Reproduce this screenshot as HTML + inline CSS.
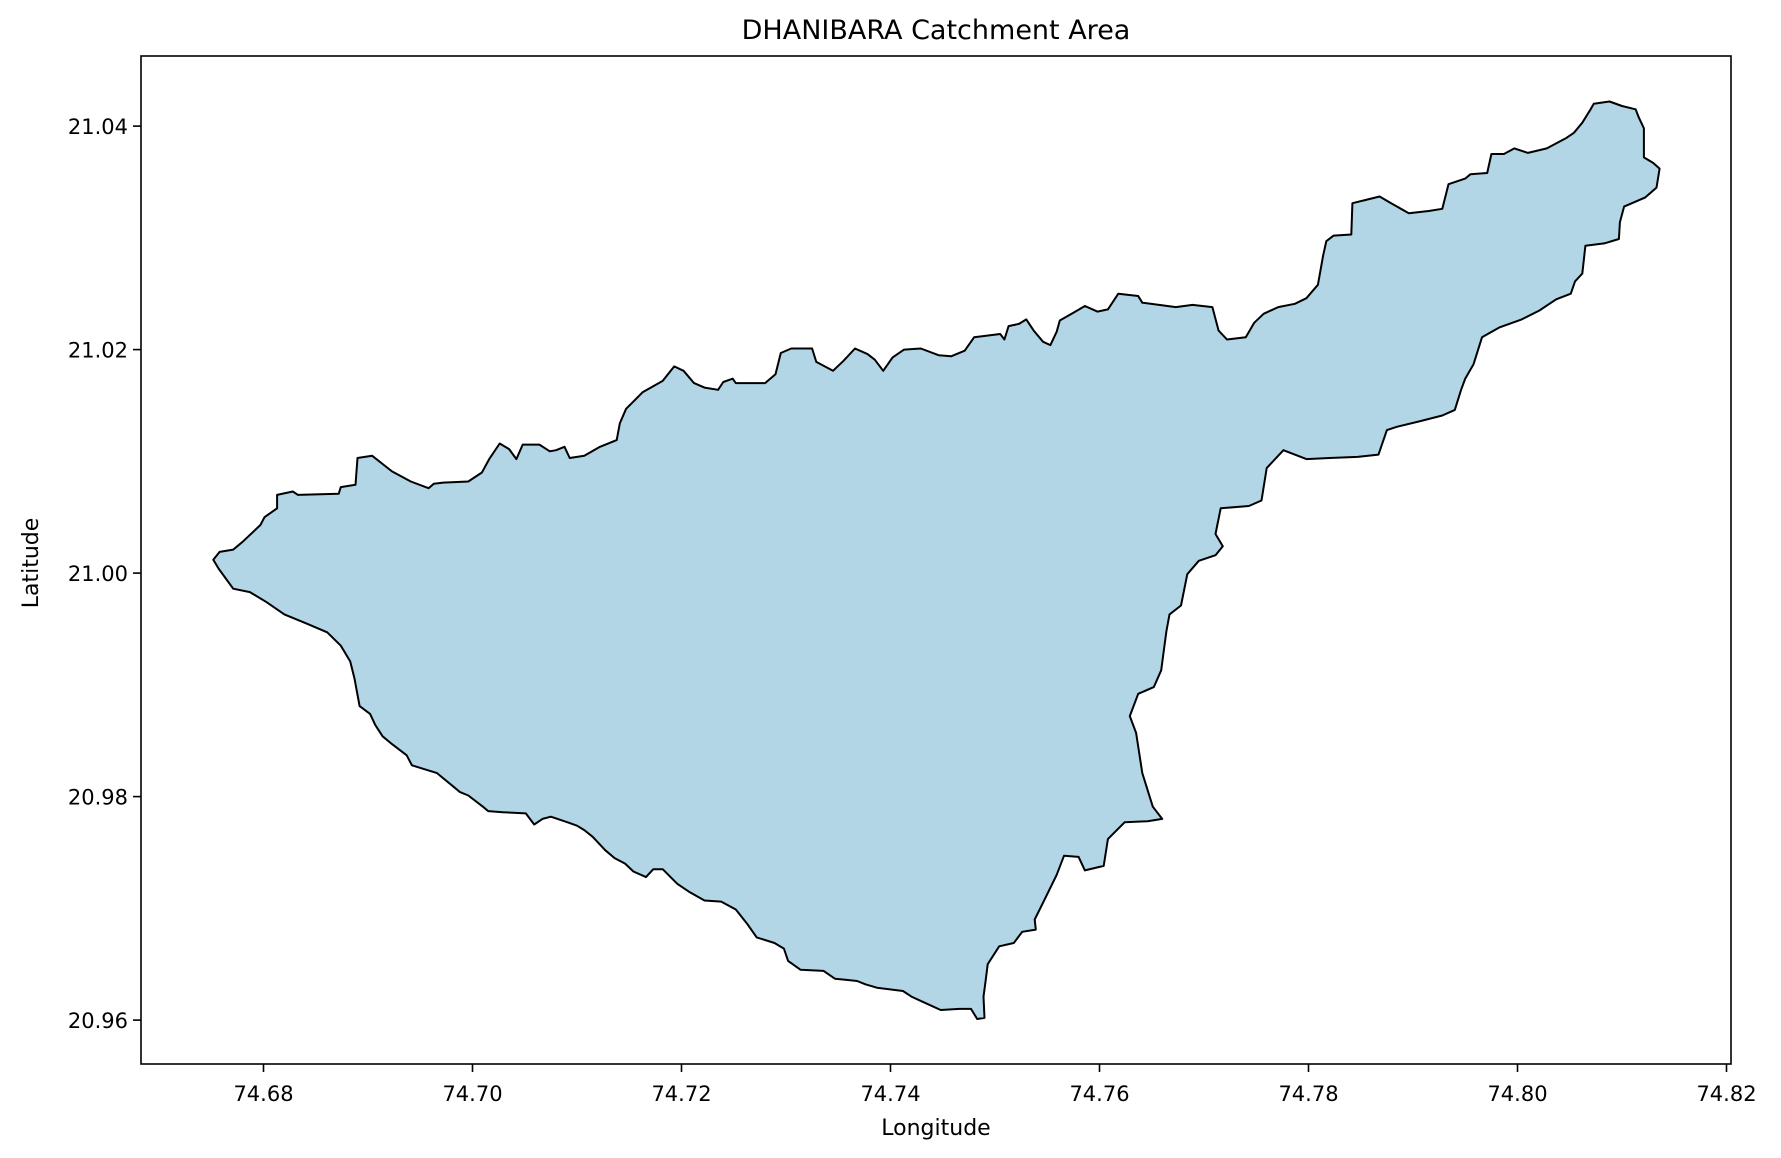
<!DOCTYPE html>
<html><head><meta charset="utf-8"><style>
html,body{margin:0;padding:0;background:#fff;}
svg{display:block;font-family:"DejaVu Sans","Liberation Sans",sans-serif;}
</style></head><body>
<svg id="chart" width="1781" height="1158" viewBox="0 0 1781 1158">
<text x="936" y="39" text-anchor="middle" font-size="27" fill="#000">DHANIBARA Catchment Area</text>
<g id="plot"></g>
<text x="936" y="1135" text-anchor="middle" font-size="22">Longitude</text>
<text transform="translate(38,563) rotate(-90)" text-anchor="middle" font-size="22">Latitude</text>
</svg>
<script>
const xTicks=[74.68,74.70,74.72,74.74,74.76,74.78,74.80,74.82];
const yTicks=[20.96,20.98,21.00,21.02,21.04];
const lons=[74.6752,74.6758,74.6771,74.6780,74.6797,74.6801,74.6813,74.6813,74.6828,74.6833,74.6872,74.6874,74.6888,74.6890,74.6904,74.6923,74.6941,74.6958,74.6963,74.6972,74.6996,74.7009,74.7016,74.7026,74.7035,74.7042,74.7048,74.7064,74.7074,74.7080,74.7088,74.7093,74.7107,74.7122,74.7138,74.7141,74.7147,74.7163,74.7182,74.7193,74.7202,74.7212,74.7222,74.7235,74.7240,74.7249,74.7252,74.7280,74.7290,74.7295,74.7305,74.7325,74.7329,74.7345,74.7355,74.7366,74.7378,74.7385,74.7393,74.7402,74.7413,74.7429,74.7446,74.7458,74.7471,74.7480,74.7505,74.7509,74.7513,74.7523,74.7530,74.7537,74.7546,74.7553,74.7559,74.7562,74.7575,74.7586,74.7598,74.7608,74.7618,74.7637,74.7641,74.7657,74.7673,74.7689,74.7708,74.7714,74.7722,74.7740,74.7748,74.7757,74.7771,74.7787,74.7798,74.7809,74.7814,74.7817,74.7824,74.7841,74.7842,74.7855,74.7868,74.7879,74.7896,74.7915,74.7928,74.7934,74.7950,74.7955,74.7971,74.7975,74.7987,74.7997,74.8010,74.8028,74.8046,74.8054,74.8062,74.8070,74.8073,74.8088,74.8100,74.8113,74.8116,74.8121,74.8121,74.8130,74.8136,74.8133,74.8122,74.8102,74.8098,74.8097,74.8083,74.8065,74.8062,74.8055,74.8051,74.8037,74.8021,74.8004,74.7983,74.7966,74.7958,74.7950,74.7946,74.7940,74.7928,74.7907,74.7885,74.7875,74.7867,74.7847,74.7820,74.7798,74.7776,74.7760,74.7755,74.7743,74.7716,74.7711,74.7718,74.7711,74.7695,74.7684,74.7678,74.7667,74.7664,74.7659,74.7652,74.7637,74.7629,74.7635,74.7641,74.7651,74.7660,74.7646,74.7624,74.7608,74.7604,74.7586,74.7580,74.7566,74.7559,74.7548,74.7538,74.7539,74.7526,74.7518,74.7504,74.7493,74.7491,74.7489,74.7490,74.7483,74.7477,74.7466,74.7448,74.7434,74.7420,74.7412,74.7387,74.7376,74.7368,74.7358,74.7347,74.7336,74.7314,74.7302,74.7298,74.7289,74.7272,74.7263,74.7252,74.7238,74.7222,74.7207,74.7196,74.7182,74.7173,74.7166,74.7154,74.7146,74.7136,74.7127,74.7115,74.7107,74.7100,74.7091,74.7075,74.7067,74.7059,74.7051,74.7029,74.7015,74.7010,74.6996,74.6988,74.6983,74.6966,74.6942,74.6937,74.6923,74.6914,74.6907,74.6902,74.6892,74.6887,74.6883,74.6874,74.6861,74.6841,74.6820,74.6803,74.6787,74.6771,74.6757];
const lats=[21.0012,21.0019,21.0021,21.0028,21.0043,21.0050,21.0058,21.0070,21.0073,21.0070,21.0071,21.0077,21.0079,21.0103,21.0105,21.0091,21.0082,21.0076,21.0080,21.0081,21.0082,21.0090,21.0102,21.0116,21.0111,21.0102,21.0115,21.0115,21.0109,21.0110,21.0113,21.0103,21.0105,21.0113,21.0119,21.0134,21.0147,21.0162,21.0172,21.0185,21.0181,21.0170,21.0166,21.0164,21.0171,21.0174,21.0170,21.0170,21.0178,21.0197,21.0201,21.0201,21.0189,21.0181,21.0190,21.0201,21.0196,21.0191,21.0181,21.0193,21.0200,21.0201,21.0195,21.0194,21.0199,21.0211,21.0214,21.0209,21.0221,21.0223,21.0227,21.0217,21.0207,21.0204,21.0216,21.0226,21.0233,21.0239,21.0234,21.0236,21.0250,21.0248,21.0242,21.0240,21.0238,21.0240,21.0238,21.0217,21.0209,21.0211,21.0224,21.0232,21.0238,21.0241,21.0246,21.0258,21.0284,21.0297,21.0302,21.0303,21.0331,21.0334,21.0337,21.0331,21.0322,21.0324,21.0326,21.0348,21.0353,21.0357,21.0358,21.0375,21.0375,21.0380,21.0376,21.0380,21.0389,21.0394,21.0403,21.0415,21.0420,21.0422,21.0418,21.0415,21.0408,21.0398,21.0372,21.0367,21.0362,21.0345,21.0336,21.0328,21.0314,21.0299,21.0295,21.0293,21.0268,21.0261,21.0250,21.0245,21.0235,21.0227,21.0220,21.0211,21.0187,21.0174,21.0164,21.0146,21.0141,21.0136,21.0131,21.0128,21.0106,21.0104,21.0103,21.0102,21.0110,21.0094,21.0065,21.0060,21.0058,21.0035,21.0024,21.0016,21.0011,20.9999,20.9971,20.9963,20.9948,20.9913,20.9898,20.9892,20.9872,20.9857,20.9821,20.9791,20.9780,20.9778,20.9777,20.9762,20.9738,20.9734,20.9746,20.9747,20.9730,20.9709,20.9690,20.9681,20.9679,20.9669,20.9666,20.9650,20.9635,20.9621,20.9602,20.9601,20.9610,20.9610,20.9609,20.9615,20.9621,20.9626,20.9629,20.9632,20.9635,20.9636,20.9637,20.9644,20.9645,20.9653,20.9664,20.9669,20.9674,20.9686,20.9699,20.9706,20.9707,20.9715,20.9722,20.9735,20.9735,20.9728,20.9733,20.9740,20.9745,20.9752,20.9764,20.9770,20.9774,20.9777,20.9782,20.9780,20.9775,20.9785,20.9786,20.9787,20.9791,20.9801,20.9804,20.9808,20.9821,20.9828,20.9837,20.9847,20.9854,20.9864,20.9874,20.9881,20.9906,20.9921,20.9935,20.9947,20.9955,20.9963,20.9974,20.9983,20.9986,21.0004];
const NS='http://www.w3.org/2000/svg';
const L=141,R=1731,T=56,B=1064;
function xs(v){return 263.5+(v-74.68)/0.02*209;}
function ys(v){return 126.1+(21.04-v)/0.02*223.5;}
const g=document.getElementById('plot');
function mk(t,a){const e=document.createElementNS(NS,t);for(const k in a)e.setAttribute(k,a[k]);g.appendChild(e);return e;}
let d='';
for(let i=0;i<lons.length;i++){
  d+=(i===0?'M':'L')+xs(lons[i]).toFixed(1)+' '+ys(lats[i]).toFixed(1);
}
d+='Z';
const poly=mk('path',{d:d,fill:'#b2d6e6',stroke:'#000','stroke-width':2,'stroke-linejoin':'round'});


const frame=mk('rect',{x:L,y:T,width:R-L,height:B-T,fill:'none',stroke:'#000','stroke-width':1.6});


xTicks.forEach(v=>{
  const x=xs(v);
  const t=mk('line',{x1:x,x2:x,y1:B,y2:B+8,stroke:'#000','stroke-width':1.6});
  
  
  const l=mk('text',{x:x,y:B+37,'text-anchor':'middle','font-size':21});
  
  
  l.textContent=v.toFixed(2);
});
yTicks.forEach(v=>{
  const y=ys(v);
  const t=mk('line',{x1:L-8,x2:L,y1:y,y2:y,stroke:'#000','stroke-width':1.6});
  
  
  const l=mk('text',{x:L-13,y:y+8,'text-anchor':'end','font-size':21});
  
  
  l.textContent=v.toFixed(2);
});
</script>
</body></html>
